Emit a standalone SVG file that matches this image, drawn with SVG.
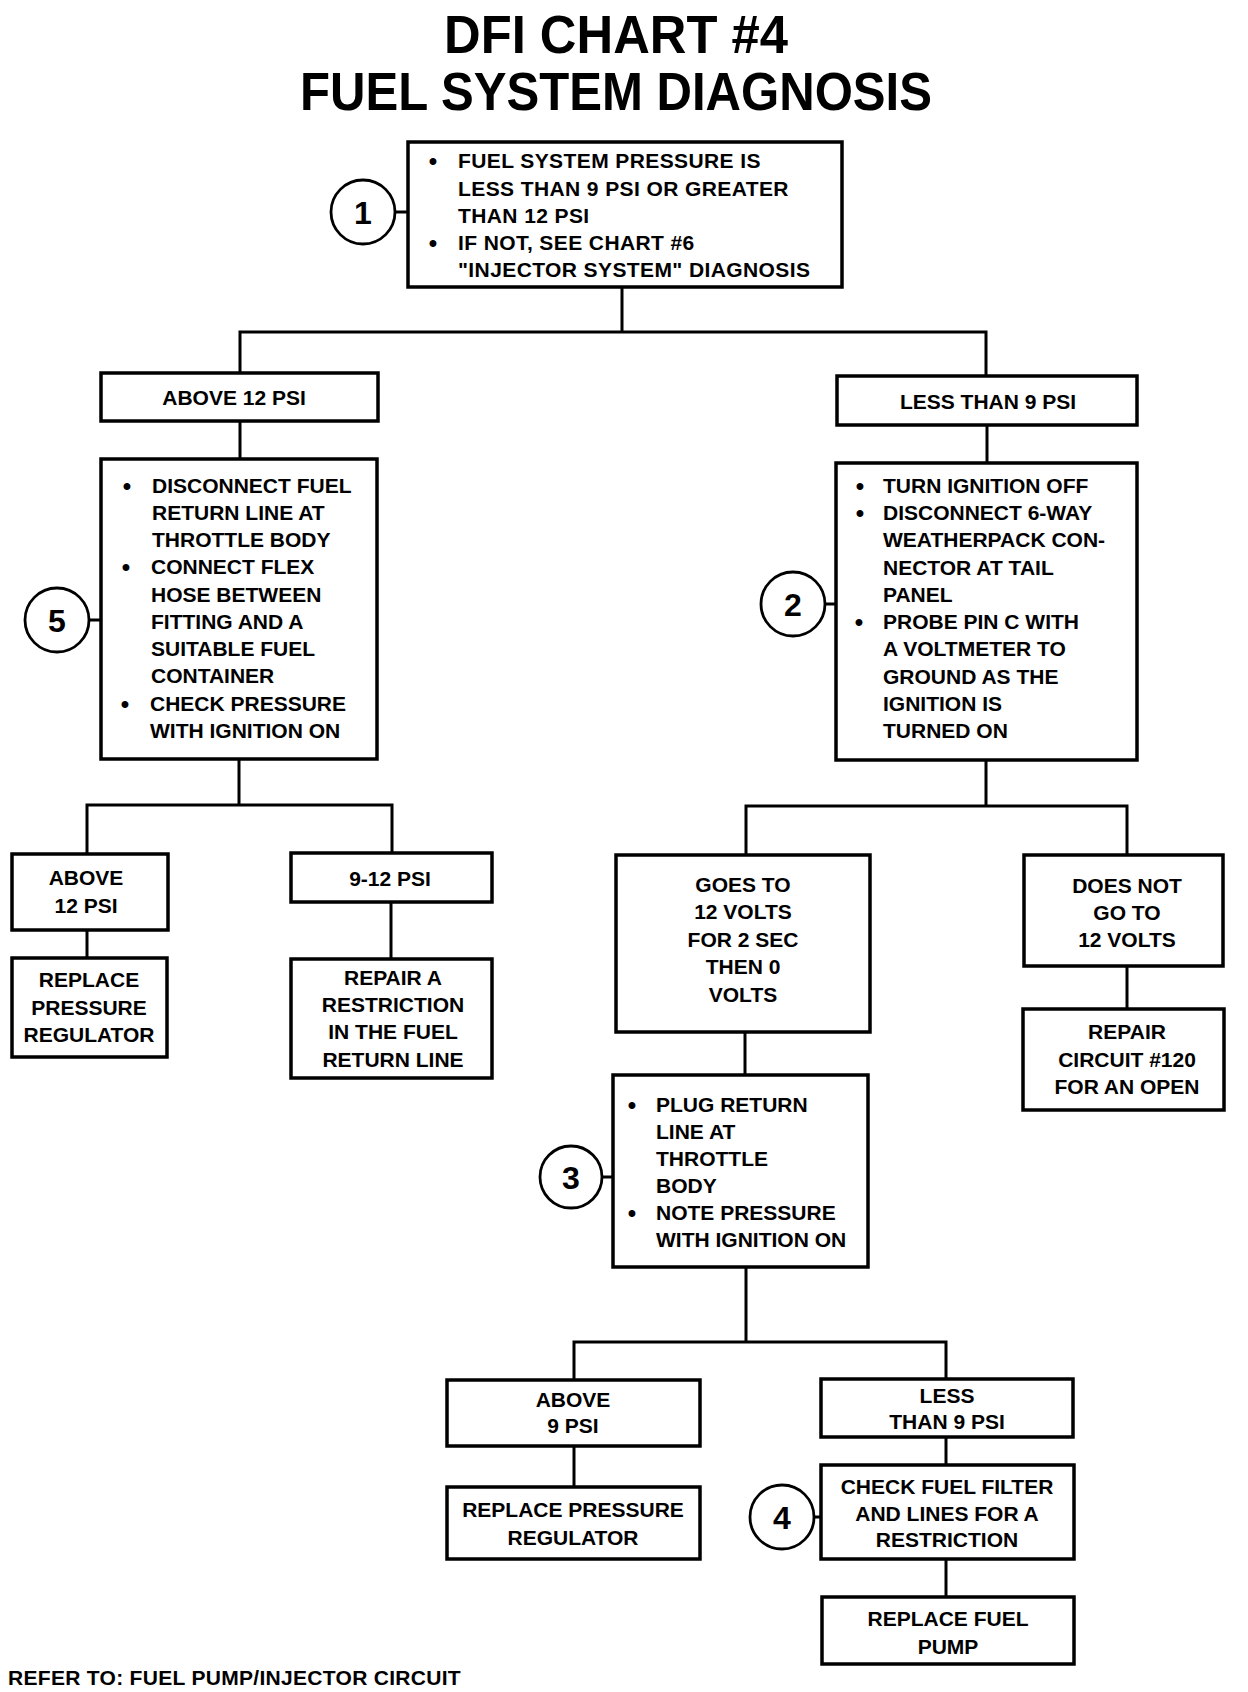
<svg xmlns="http://www.w3.org/2000/svg" width="1248" height="1692" viewBox="0 0 1248 1692">
<style>
.bg{fill:#fff}
.box{fill:#fff;stroke:#000;stroke-width:3.5}
.cir{fill:#fff;stroke:#000;stroke-width:2.8}
.ln{fill:none;stroke:#000;stroke-width:3}
.t{font-family:"Liberation Sans",Arial,Helvetica,sans-serif;font-weight:bold;font-size:21px;fill:#000}
.c{text-anchor:middle}
.b{font-size:24px;text-anchor:middle}
.num{font-family:"Liberation Sans",Arial,Helvetica,sans-serif;font-weight:bold;font-size:32px;text-anchor:middle;fill:#000}
.title{font-family:"Liberation Sans",Arial,Helvetica,sans-serif;font-weight:bold;font-size:54px;text-anchor:middle;fill:#000}
</style>
<rect class="bg" x="0" y="0" width="1248" height="1692"/>
<g id="title">
<text class="title" x="616" y="53" textLength="344" lengthAdjust="spacingAndGlyphs">DFI CHART #4</text>
<text class="title" x="616" y="110" textLength="632" lengthAdjust="spacingAndGlyphs">FUEL SYSTEM DIAGNOSIS</text>
</g>
<g id="connectors">
<path class="ln" d="M622 287 V332 M240 373 V332 H986 V376"/>
<path class="ln" d="M240 421 V459"/>
<path class="ln" d="M239 759 V805 M87 854 V805 H392 V853"/>
<path class="ln" d="M87 930 V958"/>
<path class="ln" d="M391 902 V959"/>
<path class="ln" d="M987 425 V463"/>
<path class="ln" d="M986 760 V806 M746 855 V806 H1127 V855"/>
<path class="ln" d="M1127 966 V1009"/>
<path class="ln" d="M745 1032 V1075"/>
<path class="ln" d="M746 1267 V1342 M574 1380 V1342 H946 V1379"/>
<path class="ln" d="M574 1446 V1487"/>
<path class="ln" d="M946 1437 V1465"/>
<path class="ln" d="M946 1559 V1597"/>
<path class="ln" d="M395 212 H408 M89 620 H101 M825 604 H836 M602 1177 H613 M814 1517 H821"/>
</g>
<g id="node1">
<rect class="box" x="408" y="142" width="434" height="145"/>
<text class="t b" x="433" y="169">•</text>
<text class="t" x="458" y="168" letter-spacing="0.4">FUEL SYSTEM PRESSURE IS</text>
<text class="t" x="458" y="196" letter-spacing="0.4">LESS THAN 9 PSI OR GREATER</text>
<text class="t" x="458" y="223" letter-spacing="0.4">THAN 12 PSI</text>
<text class="t b" x="433" y="251">•</text>
<text class="t" x="458" y="250" letter-spacing="0.4">IF NOT, SEE CHART #6</text>
<text class="t" x="458" y="277" letter-spacing="0.4">"INJECTOR SYSTEM" DIAGNOSIS</text>
</g>
<g id="step1"><circle class="cir" cx="363" cy="212" r="32"/><text class="num" x="363" y="224">1</text></g>
<g id="above12"><rect class="box" x="101" y="373" width="277" height="48"/><text class="t c" x="234" y="405">ABOVE 12 PSI</text></g>
<g id="node5">
<rect class="box" x="101" y="459" width="276" height="300"/>
<text class="t b" x="127" y="494">•</text>
<text class="t" x="152" y="493">DISCONNECT FUEL</text>
<text class="t" x="152" y="520">RETURN LINE AT</text>
<text class="t" x="152" y="547">THROTTLE BODY</text>
<text class="t b" x="126" y="575">•</text>
<text class="t" x="151" y="574">CONNECT FLEX</text>
<text class="t" x="151" y="602">HOSE BETWEEN</text>
<text class="t" x="151" y="629">FITTING AND A</text>
<text class="t" x="151" y="656">SUITABLE FUEL</text>
<text class="t" x="151" y="683">CONTAINER</text>
<text class="t b" x="125" y="712">•</text>
<text class="t" x="150" y="711">CHECK PRESSURE</text>
<text class="t" x="150" y="738">WITH IGNITION ON</text>
</g>
<g id="step5"><circle class="cir" cx="57" cy="620" r="32"/><text class="num" x="57" y="632">5</text></g>
<g id="above12b"><rect class="box" x="12" y="854" width="156" height="76"/><text class="t c" x="86" y="885">ABOVE</text><text class="t c" x="86" y="913">12 PSI</text></g>
<g id="replreg1"><rect class="box" x="12" y="958" width="155" height="99"/><text class="t c" x="89" y="987">REPLACE</text><text class="t c" x="89" y="1015">PRESSURE</text><text class="t c" x="89" y="1042">REGULATOR</text></g>
<g id="psi912"><rect class="box" x="291" y="853" width="201" height="49"/><text class="t c" x="390" y="886">9-12 PSI</text></g>
<g id="repairA"><rect class="box" x="291" y="959" width="201" height="119"/><text class="t c" x="393" y="985">REPAIR A</text><text class="t c" x="393" y="1012">RESTRICTION</text><text class="t c" x="393" y="1039">IN THE FUEL</text><text class="t c" x="393" y="1067">RETURN LINE</text></g>
<g id="less9"><rect class="box" x="837" y="376" width="300" height="49"/><text class="t c" x="988" y="409">LESS THAN 9 PSI</text></g>
<g id="node2">
<rect class="box" x="836" y="463" width="301" height="297"/>
<text class="t b" x="860" y="494">•</text>
<text class="t" x="883" y="493">TURN IGNITION OFF</text>
<text class="t b" x="860" y="521">•</text>
<text class="t" x="883" y="520">DISCONNECT 6-WAY</text>
<text class="t" x="883" y="547">WEATHERPACK CON-</text>
<text class="t" x="883" y="575">NECTOR AT TAIL</text>
<text class="t" x="883" y="602">PANEL</text>
<text class="t b" x="859" y="630">•</text>
<text class="t" x="883" y="629">PROBE PIN C WITH</text>
<text class="t" x="883" y="656">A VOLTMETER TO</text>
<text class="t" x="883" y="684">GROUND AS THE</text>
<text class="t" x="883" y="711">IGNITION IS</text>
<text class="t" x="883" y="738">TURNED ON</text>
</g>
<g id="step2"><circle class="cir" cx="793" cy="604" r="32"/><text class="num" x="793" y="616">2</text></g>
<g id="goes"><rect class="box" x="616" y="855" width="254" height="177"/><text class="t c" x="743" y="892">GOES TO</text><text class="t c" x="743" y="919">12 VOLTS</text><text class="t c" x="743" y="947">FOR 2 SEC</text><text class="t c" x="743" y="974">THEN 0</text><text class="t c" x="743" y="1002">VOLTS</text></g>
<g id="doesnot"><rect class="box" x="1024" y="855" width="199" height="111"/><text class="t c" x="1127" y="893">DOES NOT</text><text class="t c" x="1127" y="920">GO TO</text><text class="t c" x="1127" y="947">12 VOLTS</text></g>
<g id="repcirc"><rect class="box" x="1023" y="1009" width="201" height="101"/><text class="t c" x="1127" y="1039">REPAIR</text><text class="t c" x="1127" y="1067">CIRCUIT #120</text><text class="t c" x="1127" y="1094">FOR AN OPEN</text></g>
<g id="node3">
<rect class="box" x="613" y="1075" width="255" height="192"/>
<text class="t b" x="632" y="1113">•</text>
<text class="t" x="656" y="1112">PLUG RETURN</text>
<text class="t" x="656" y="1139">LINE AT</text>
<text class="t" x="656" y="1166">THROTTLE</text>
<text class="t" x="656" y="1193">BODY</text>
<text class="t b" x="632" y="1221">•</text>
<text class="t" x="656" y="1220">NOTE PRESSURE</text>
<text class="t" x="656" y="1247">WITH IGNITION ON</text>
</g>
<g id="step3"><circle class="cir" cx="571" cy="1177" r="31"/><text class="num" x="571" y="1189">3</text></g>
<g id="above9"><rect class="box" x="447" y="1380" width="253" height="66"/><text class="t c" x="573" y="1407">ABOVE</text><text class="t c" x="573" y="1433">9 PSI</text></g>
<g id="replreg2"><rect class="box" x="447" y="1487" width="253" height="72"/><text class="t c" x="573" y="1517">REPLACE PRESSURE</text><text class="t c" x="573" y="1545">REGULATOR</text></g>
<g id="less9b"><rect class="box" x="821" y="1379" width="252" height="58"/><text class="t c" x="947" y="1403">LESS</text><text class="t c" x="947" y="1429">THAN 9 PSI</text></g>
<g id="check"><rect class="box" x="821" y="1465" width="253" height="94"/><text class="t c" x="947" y="1494">CHECK FUEL FILTER</text><text class="t c" x="947" y="1521">AND LINES FOR A</text><text class="t c" x="947" y="1547">RESTRICTION</text></g>
<g id="step4"><circle class="cir" cx="782" cy="1517" r="32"/><text class="num" x="782" y="1529">4</text></g>
<g id="pump"><rect class="box" x="822" y="1597" width="252" height="67"/><text class="t c" x="948" y="1626">REPLACE FUEL</text><text class="t c" x="948" y="1654">PUMP</text></g>
<g id="footer"><text class="t" x="8" y="1685" letter-spacing="0.3">REFER TO: FUEL PUMP/INJECTOR CIRCUIT</text></g>
</svg>
